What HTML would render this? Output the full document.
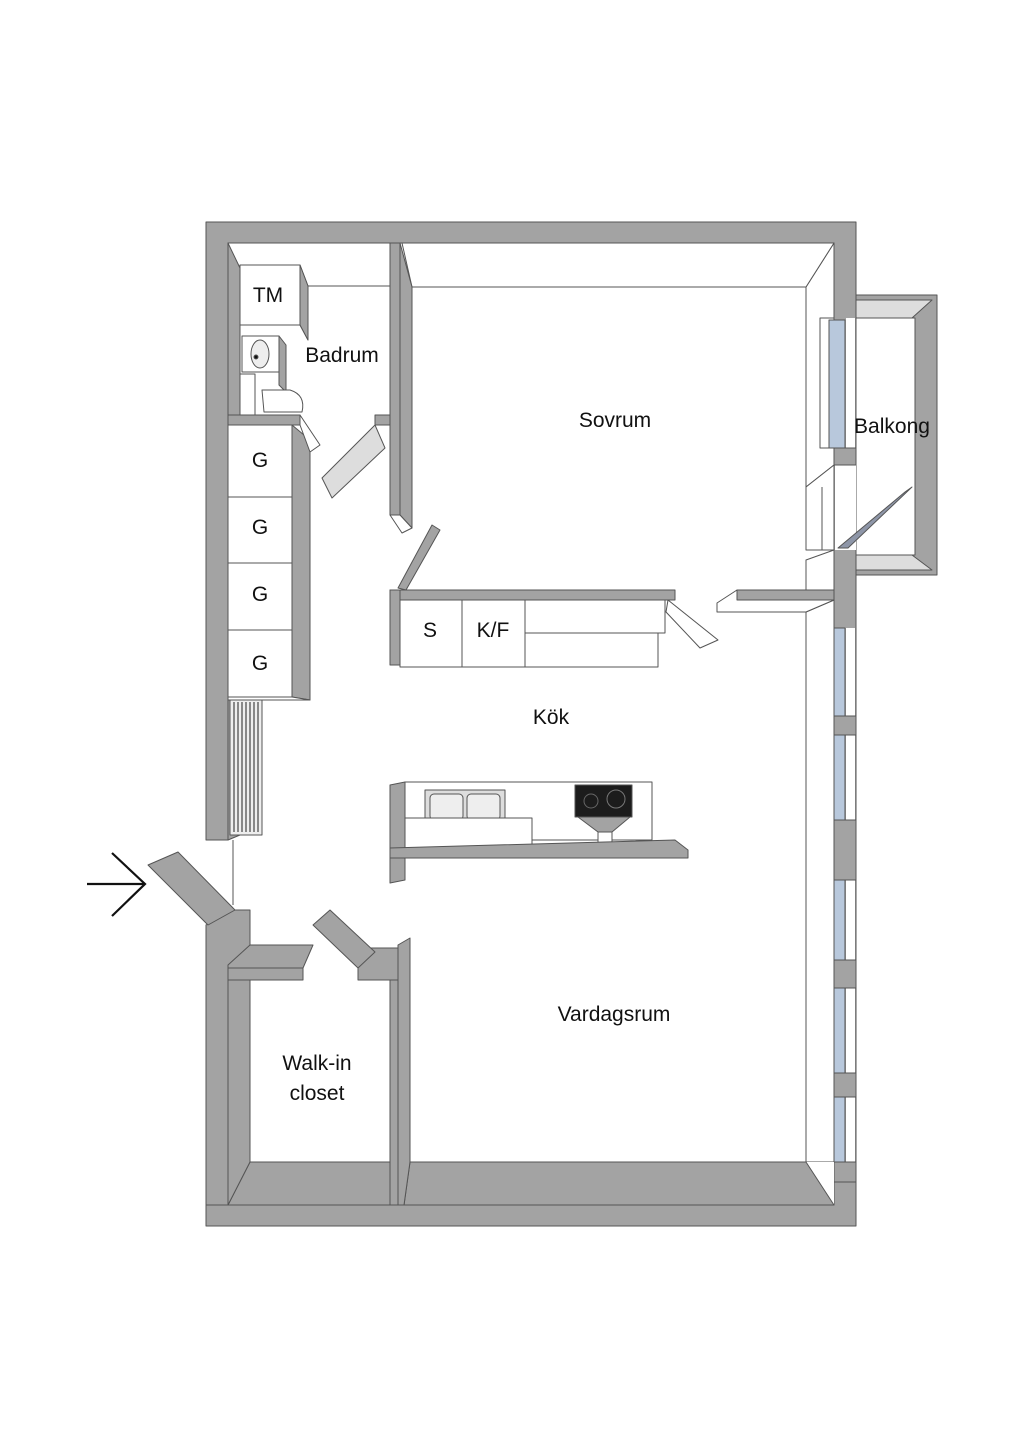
<!DOCTYPE html>
<html><head><meta charset="utf-8"><style>
html,body{margin:0;padding:0;background:#fff}
svg{display:block}
text{font-family:"Liberation Sans",sans-serif;font-size:21px;fill:#111}
</style></head><body>
<svg width="1024" height="1449" viewBox="0 0 1024 1449" xmlns="http://www.w3.org/2000/svg">
<g stroke="#555" stroke-width="1" stroke-linejoin="round">
<!-- balcony -->
<rect x="856" y="295" width="81" height="280" fill="#a3a3a3"/>
<rect x="856" y="318" width="59" height="237" fill="#fff"/>
<polygon points="856,300 932,300 912,318 856,318" fill="#ddd"/>
<polygon points="856,555 912,555 932,570 856,570" fill="#ddd"/>
<!-- outer walls -->
<path d="M206,222 H856 V1226 H206 V925 H228 V1205 H834 V243 H228 V840 H206 Z" fill="#a3a3a3"/>
<!-- right wall inner 3D face bedroom -->
<polygon points="834,243 806,287 806,487 834,465" fill="#fff"/>
<!-- window openings right -->
<g fill="#fff">
<rect x="820" y="318" width="14" height="130"/>
<rect x="820" y="628" width="14" height="88"/>
<rect x="820" y="735" width="14" height="85"/>
<rect x="820" y="880" width="14" height="80"/>
<rect x="820" y="988" width="14" height="85"/>
<rect x="820" y="1097" width="14" height="65"/>
</g>
<g fill="#b8c8dc">
<rect x="829" y="320" width="16" height="128"/>
<rect x="829" y="628" width="16" height="88"/>
<rect x="829" y="735" width="16" height="85"/>
<rect x="829" y="880" width="16" height="80"/>
<rect x="829" y="988" width="16" height="85"/>
<rect x="829" y="1097" width="16" height="65"/>
</g>
<g fill="#fff" stroke="none">
<rect x="846" y="318" width="9" height="130"/>
<rect x="846" y="628" width="9" height="88"/>
<rect x="846" y="735" width="9" height="85"/>
<rect x="846" y="880" width="9" height="80"/>
<rect x="846" y="988" width="9" height="85"/>
<rect x="846" y="1097" width="9" height="65"/>
<rect x="835" y="465" width="21" height="85"/>
</g>
<g fill="#a3a3a3">
<rect x="834" y="448" width="22" height="17"/>
<rect x="834" y="716" width="22" height="19"/>
<rect x="834" y="820" width="22" height="60"/>
<rect x="834" y="960" width="22" height="28"/>
<rect x="834" y="1073" width="22" height="24"/>
<rect x="834" y="1162" width="22" height="20"/>
</g>
<polygon points="834,465 806,487 806,550 834,550" fill="#fff"/>
<line x1="822" y1="487" x2="822" y2="550"/>
<!-- balcony door -->
<polygon points="838,548 905,492 912,487 848,548" fill="#8e96a8"/>
<polygon points="806,560 834,550 834,590 806,590" fill="#fff"/>
<!-- right living face -->
<polygon points="806,612 834,600 834,1162 806,1162" fill="#fff"/>
<polygon points="806,1162 834,1162 834,1205 806,1205" fill="#fff" stroke="none"/>
<line x1="806" y1="612" x2="806" y2="1162"/>
<!-- wall near kitchen right -->
<polygon points="737,590 834,590 834,600 737,600" fill="#a3a3a3"/>
<polygon points="717,603 737,590 737,600 834,600 806,612 717,612" fill="#fff"/>
<!-- top face of outer top wall in bedroom -->
<polygon points="402,243 834,243 806,287 412,287" fill="#fff"/>
<!-- bottom 3D faces -->
<polygon points="250,1162 390,1162 390,1205 228,1205" fill="#a3a3a3"/>
<polygon points="228,980 250,980 250,1162 228,1205" fill="#a3a3a3"/>
<polygon points="410,1162 806,1162 834,1205 404,1205" fill="#a3a3a3"/>
<!-- closet partition -->
<polygon points="390,950 398,950 398,1205 390,1205" fill="#a3a3a3"/>
<polygon points="398,945 410,938 410,1162 404,1205 398,1205" fill="#a3a3a3"/>
<!-- entry walls -->
<polygon points="206,925 228,910 250,910 250,965 228,980 228,1205 206,1205" fill="#a3a3a3"/>
<polygon points="228,965 250,945 313,945 303,968 228,968" fill="#a3a3a3"/>
<polygon points="228,968 303,968 303,980 228,980" fill="#a3a3a3"/>
<polygon points="358,968 368,948 398,948 398,980 358,980" fill="#a3a3a3"/>
<!-- doors -->
<polygon points="148,865 178,852 235,910 208,925" fill="#a3a3a3"/>
<polygon points="313,925 330,910 375,952 358,968" fill="#a3a3a3"/>
<line x1="233" y1="840" x2="233" y2="905"/>
<!-- left wall 3D (wardrobe zone) -->
<polygon points="228,700 240,700 240,835 228,840" fill="#a3a3a3"/>
<!-- radiator -->
<rect x="230" y="700" width="32" height="135" fill="#eee"/>
<g stroke="#222">
<line x1="234" y1="702" x2="234" y2="832"/><line x1="238" y1="702" x2="238" y2="832"/>
<line x1="242" y1="702" x2="242" y2="832"/><line x1="246" y1="702" x2="246" y2="832"/>
<line x1="250" y1="702" x2="250" y2="832"/><line x1="254" y1="702" x2="254" y2="832"/>
<line x1="258" y1="702" x2="258" y2="832"/>
</g>
<!-- wardrobes -->
<polygon points="292,425 310,440 310,700 292,697" fill="#a3a3a3"/>
<rect x="228" y="425" width="64" height="72" fill="#fff"/>
<rect x="228" y="497" width="64" height="66" fill="#fff"/>
<rect x="228" y="563" width="64" height="67" fill="#fff"/>
<rect x="228" y="630" width="64" height="67" fill="#fff"/>
<polygon points="228,697 292,697 310,700 228,700" fill="#fff"/>
<!-- bathroom -->
<polygon points="228,243 240,268 240,415 228,415" fill="#a3a3a3"/>
<polygon points="228,415 300,415 300,425 228,425" fill="#a3a3a3"/>
<polygon points="300,415 320,445 310,452 300,425" fill="#fff"/>
<line x1="306" y1="286" x2="390" y2="286"/>
<polygon points="240,265 300,265 308,286 308,340 300,325 240,325" fill="#fff"/>
<polygon points="300,265 308,286 308,340 300,325" fill="#a3a3a3"/>
<rect x="242" y="336" width="37" height="36" fill="#fff"/>
<polygon points="279,336 286,345 286,392 279,385" fill="#a3a3a3"/>
<ellipse cx="260" cy="354" rx="9" ry="14" fill="#eee"/>
<circle cx="256" cy="357" r="2" fill="#111"/>
<rect x="240" y="374" width="15" height="41" fill="#fff"/>
<path d="M262,390 H290 Q306,395 302,412 H264 Z" fill="#fff"/>
<!-- bath/bed partition -->
<rect x="390" y="243" width="10" height="272" fill="#a3a3a3"/>
<polygon points="400,243 412,287 412,528 400,515" fill="#a3a3a3"/>
<polygon points="390,515 400,515 412,528 402,533" fill="#fff"/>
<rect x="375" y="415" width="15" height="10" fill="#a3a3a3"/>
<polygon points="322,478 375,425 385,448 332,498" fill="#ddd"/>
<!-- kitchen upper -->
<polygon points="398,588 432,525 440,530 406,590" fill="#a3a3a3"/>
<rect x="390" y="590" width="285" height="10" fill="#a3a3a3"/>
<rect x="390" y="590" width="10" height="75" fill="#a3a3a3"/>
<rect x="400" y="600" width="62" height="67" fill="#fff"/>
<rect x="462" y="600" width="63" height="67" fill="#fff"/>
<rect x="525" y="600" width="140" height="33" fill="#fff"/>
<rect x="525" y="633" width="133" height="34" fill="#fff"/>
<polygon points="668,600 718,640 700,648 666,612" fill="#fff"/>
<!-- kitchen lower -->
<rect x="405" y="782" width="247" height="58" fill="#fff"/>
<rect x="425" y="790" width="80" height="28" fill="#ddd"/>
<rect x="430" y="794" width="33" height="26" rx="4" fill="#eee"/>
<rect x="467" y="794" width="33" height="26" rx="4" fill="#eee"/>
<rect x="400" y="818" width="132" height="30" fill="#fff"/>
<rect x="575" y="785" width="57" height="32" fill="#1c1c1c"/>
<circle cx="591" cy="801" r="7" fill="none" stroke="#666"/>
<circle cx="616" cy="799" r="9" fill="none" stroke="#777"/>
<polygon points="578,817 630,817 612,832 598,832" fill="#a3a3a3"/>
<rect x="598" y="832" width="14" height="14" fill="#fff"/>
<polygon points="390,785 405,782 405,880 390,883" fill="#a3a3a3"/>
<polygon points="390,848 675,840 688,850 688,858 390,858" fill="#a3a3a3"/>
</g>
<!-- arrow -->
<g stroke="#111" stroke-width="2.2" fill="none">
<line x1="87" y1="884" x2="145" y2="884"/>
<polyline points="112,853 145,884 112,916"/>
</g>
<g text-anchor="middle">
<text x="268" y="302">TM</text>
<text x="342" y="362">Badrum</text>
<text x="615" y="427">Sovrum</text>
<text x="892" y="433">Balkong</text>
<text x="260" y="467">G</text>
<text x="260" y="534">G</text>
<text x="260" y="601">G</text>
<text x="260" y="670">G</text>
<text x="430" y="637">S</text>
<text x="493" y="637">K/F</text>
<text x="551" y="724">Kök</text>
<text x="614" y="1021">Vardagsrum</text>
<text x="317" y="1070">Walk-in</text>
<text x="317" y="1100">closet</text>
</g>
</svg>
</body></html>
